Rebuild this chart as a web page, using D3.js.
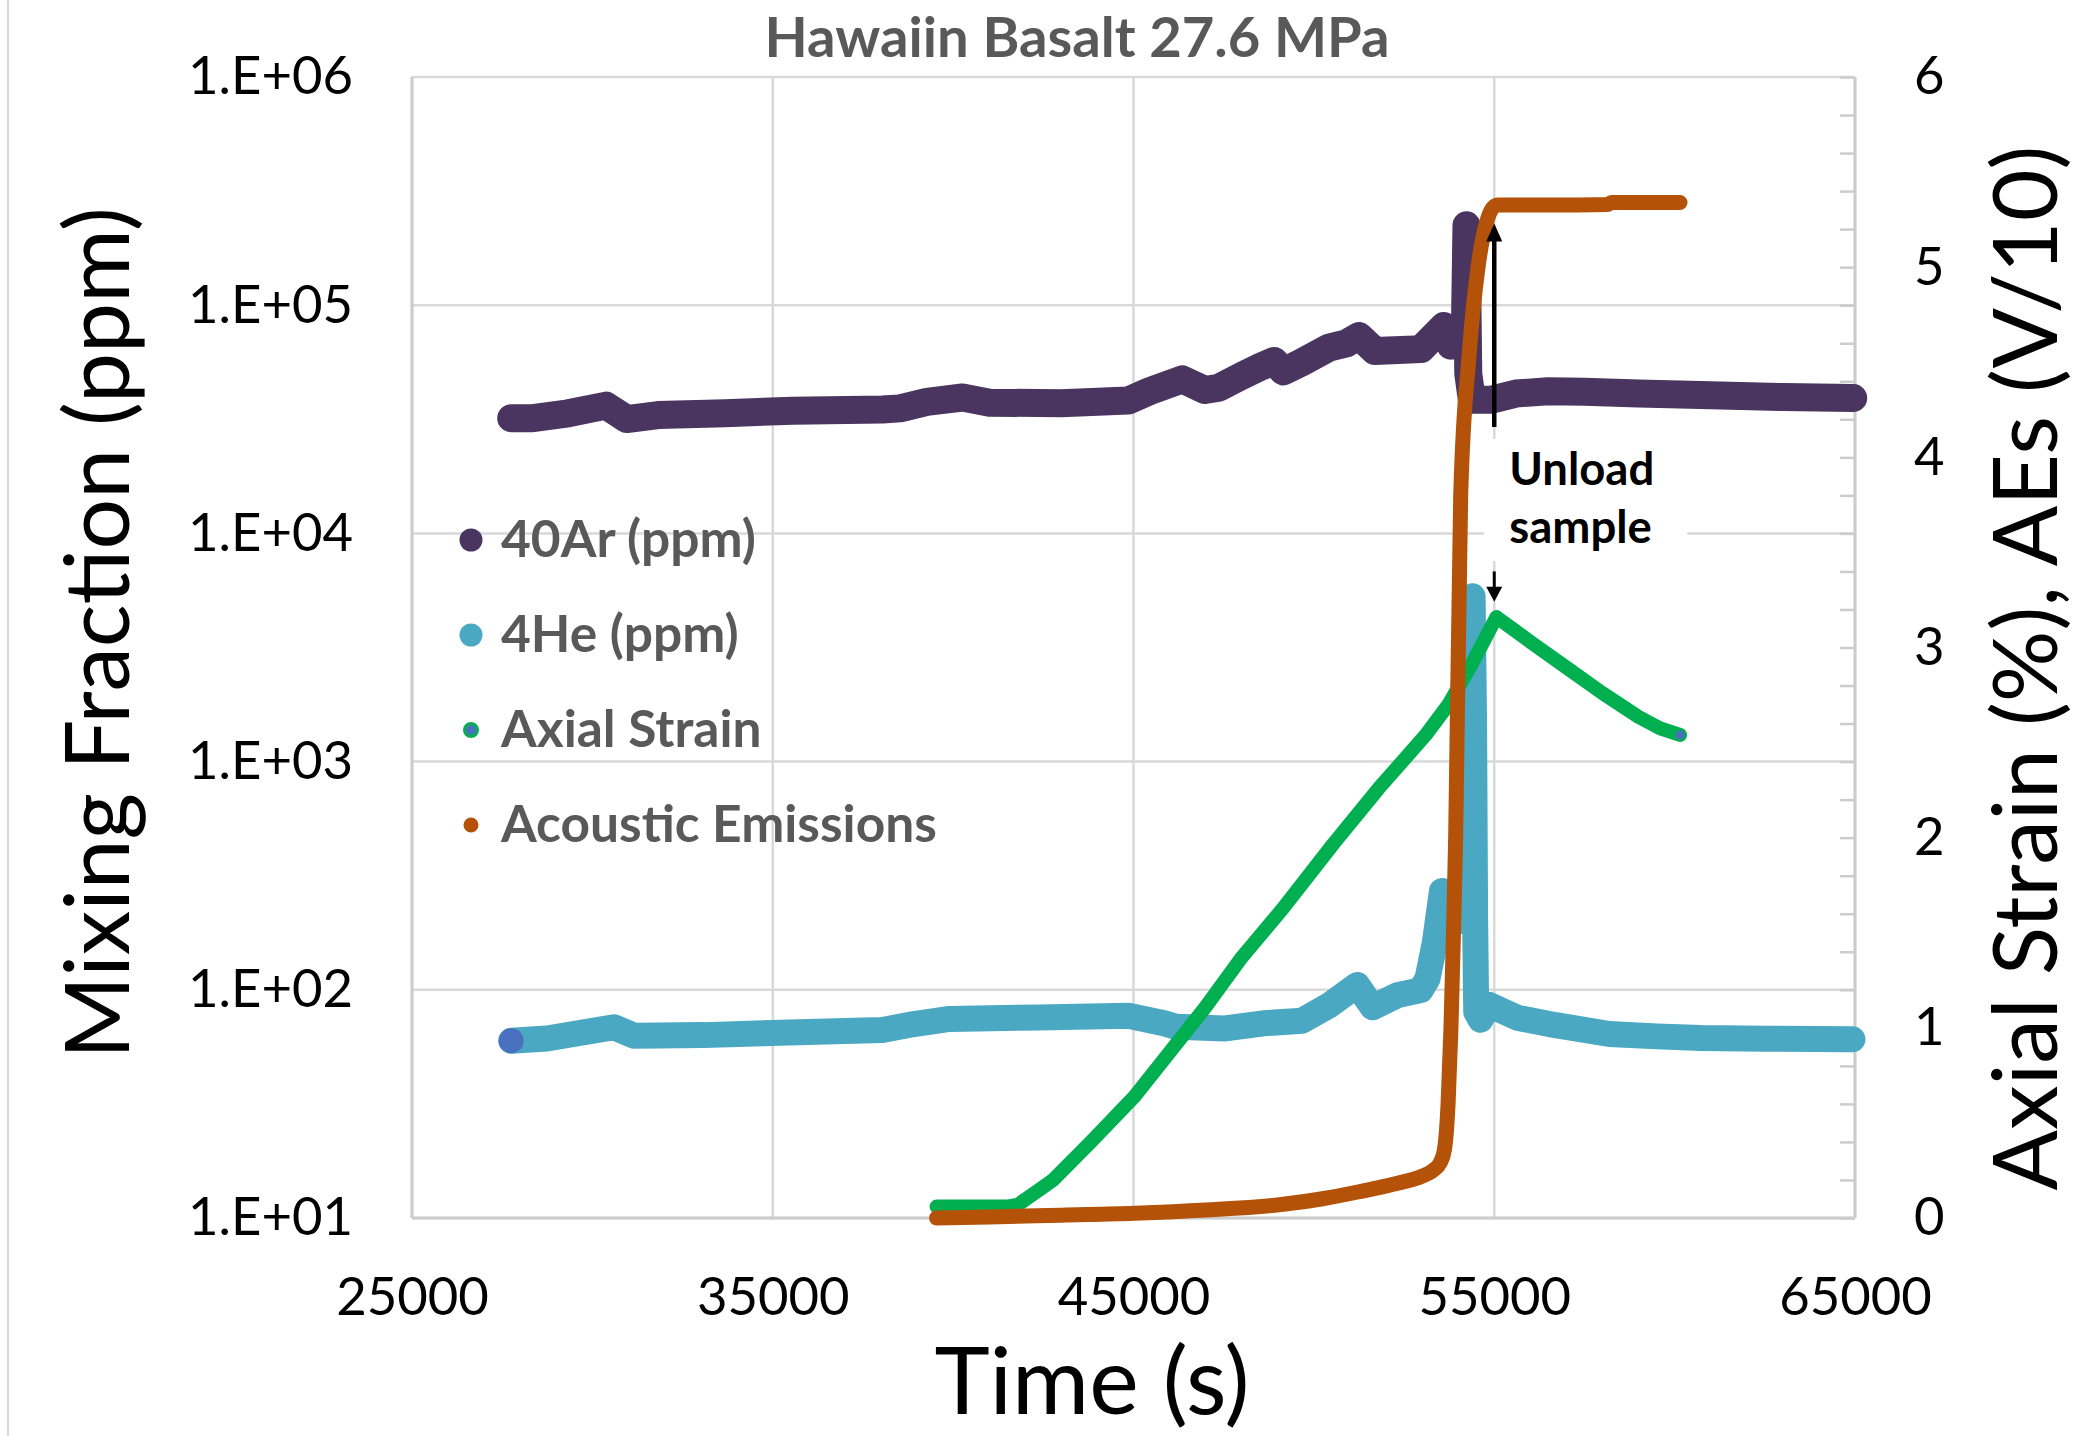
<!DOCTYPE html>
<html>
<head>
<meta charset="utf-8">
<script src="https://cdn.jsdelivr.net/npm/d3@7"></script>
<style>
  body { margin: 0; background: #fff; }
  svg { display: block; }
  text { font-family: Lato, "Open Sans", "Liberation Sans", sans-serif; }
</style>
</head>
<body>
<svg id="chart" width="2085" height="1436"></svg>
<script>
// ---- Data: Hawaiian basalt at 27.6 MPa confining pressure ----
// Gas mixing fractions (ppm) against run time (s)
const ar40Time = [27750, 28350, 29330, 30380, 30950, 31820, 33680, 35550, 38040, 38530,
  39270, 40260, 41010, 42990, 44850, 45450, 46350, 46980, 47370, 48000, 48500, 48900,
  49150, 49650, 50420, 50900, 51250, 51690, 52970, 53600, 53790, 54180, 54230, 54280,
  54380, 54900, 55600, 56500, 57500, 59000, 61000, 63000, 64950];
const ar40Ppm = [32000, 32000, 33600, 36300, 31700, 33000, 33600, 34500, 34900, 35300,
  37700, 39400, 37400, 37200, 38200, 42000, 47300, 42500, 43500, 49000, 53500, 57000,
  51200, 56000, 65200, 68000, 73300, 63000, 64200, 81100, 66500, 67000, 224000, 50000,
  38500, 38500, 41000, 42000, 41800, 41000, 40300, 39600, 39200];

const he4Time = [27750, 28740, 29850, 30600, 31160, 33090, 34950, 38040, 38910, 39900,
  42380, 44860, 45850, 46170, 47550, 48600, 49670, 50410, 51200, 51630, 52320, 52960,
  53150, 53350, 53550, 53850, 54150, 54330, 54400, 54440, 54470, 54500, 54620, 54850,
  55640, 56700, 58190, 59500, 60730, 62500, 64930];
const he4Ppm = [59.8, 61.2, 65.5, 68.5, 62.9, 63.3, 64.7, 66.7, 70.8, 74.5,
  75.7, 77, 71.3, 68.9, 67.7, 71.3, 73.2, 85.2, 105, 83.8, 94.8, 99.7,
  112, 160, 271, 250, 200, 700, 5300, 1500, 200, 80, 74, 86,
  75.4, 70, 64, 62.5, 61.5, 61, 60.7];

// Mechanical record on the secondary axis
const strainTime = [39540, 40500, 41500, 41800, 42100, 42400, 42770, 43820, 45030, 47000,
  48000, 49150, 50550, 51800, 53100, 53730, 54370, 55060, 56000, 57000, 58000, 59000,
  59600, 60150];
const strainPct = [0.06, 0.06, 0.06, 0.07, 0.11, 0.15, 0.2, 0.40, 0.64, 1.11,
  1.37, 1.63, 1.97, 2.26, 2.54, 2.70, 2.91, 3.16, 3.03, 2.895, 2.76, 2.635,
  2.575, 2.54];

const aeTime = [39540, 41000, 43000, 45030, 47000, 49150, 50200, 51250, 52320, 53000,
  53300, 53500, 53620, 53720, 53800, 53870, 53930, 54070, 54300, 54550, 54810, 54950,
  55100, 56500, 58150, 58250, 60150];
const aeVolts = [0.0, 0.005, 0.015, 0.025, 0.042, 0.072, 0.10, 0.138, 0.183, 0.22,
  0.25, 0.29, 0.36, 0.6, 1.0, 1.5, 2.0, 3.8, 4.53, 5.0, 5.25, 5.31,
  5.327, 5.327, 5.33, 5.34, 5.34];

// Axes
const timeTicks = [25000, 35000, 45000, 55000, 65000];
const ppmTicks = [10, 100, 1000, 10000, 100000, 1000000];
const ppmTickLabels = ["1.E+01", "1.E+02", "1.E+03", "1.E+04", "1.E+05", "1.E+06"];
const rightTicks = [0, 1, 2, 3, 4, 5, 6];
const rightMinorStep = 0.2;

// Legend and annotation
const seriesNames = ["40Ar (ppm)", "4He (ppm)", "Axial Strain", "Acoustic Emissions"];
const unloadTime = 55000;
const unloadArrowUp = [4.16, 5.23];    // tail -> tip, right-axis units
const unloadArrowDown = [3.40, 3.24];  // tail -> tip, right-axis units
const unloadLabel = ["Unload", "sample"];

// ---- Layout ----
const W = 2085, H = 1436;
const plot = { left: 412, right: 1855, top: 77, bottom: 1218 };
const colors = {
  ar: "#49355f", he: "#4aa8c2", strain: "#00b050", ae: "#b35208",
  accent: "#4a70c0", grid: "#d9d9d9", axis: "#cccccc", label: "#595959"
};

const x = d3.scaleLinear().domain([25000, 65000]).range([plot.left, plot.right]);
const yL = d3.scaleLog().domain([10, 1e6]).range([plot.bottom, plot.top]);
const yR = d3.scaleLinear().domain([0, 6]).range([plot.bottom, plot.top]);

const svg = d3.select("#chart");
svg.append("rect").attr("width", W).attr("height", H).attr("fill", "#fff");

// Set a text node's font size so its advance width equals `width`.
function fitTo(node, width) {
  const size = parseFloat(node.getAttribute("font-size"));
  const w = node.getComputedTextLength();
  const s = size * width / w;
  node.setAttribute("font-size", s);
  return s;
}
function sizeFor(str, width, weight) {
  const probe = svg.append("text").attr("font-size", 50)
    .attr("font-weight", weight || "normal").text(str);
  const s = fitTo(probe.node(), width);
  probe.remove();
  return s;
}

// chart-area border
svg.append("line").attr("x1", 8).attr("x2", 8).attr("y1", 0).attr("y2", H)
  .attr("stroke", colors.grid).attr("stroke-width", 2);

// ---- Gridlines ----
const grid = svg.append("g");
grid.selectAll("line.h").data(ppmTicks).join("line").attr("class", "h")
  .attr("x1", plot.left).attr("x2", plot.right)
  .attr("y1", d => yL(d)).attr("y2", d => yL(d))
  .attr("stroke", colors.grid).attr("stroke-width", 2.5);
grid.selectAll("line.v").data(timeTicks).join("line").attr("class", "v")
  .attr("x1", d => x(d)).attr("x2", d => x(d))
  .attr("y1", plot.top).attr("y2", plot.bottom)
  .attr("stroke", colors.grid).attr("stroke-width", 2.5);

// axis frame lines
const frame = svg.append("g").attr("stroke", colors.axis).attr("stroke-width", 3);
frame.append("line").attr("x1", plot.left).attr("x2", plot.left).attr("y1", plot.top).attr("y2", plot.bottom);
frame.append("line").attr("x1", plot.right).attr("x2", plot.right).attr("y1", plot.top).attr("y2", plot.bottom);
frame.append("line").attr("x1", plot.left).attr("x2", plot.right).attr("y1", plot.bottom).attr("y2", plot.bottom);

// ---- Axes ----
const tickFont = sizeFor("1.E+06", 165);

function styleAxis(g) {
  g.select(".domain").remove();
  g.selectAll("text").attr("font-size", tickFont).attr("fill", "#000")
    .attr("font-family", "Lato, 'Open Sans', sans-serif");
}

svg.append("g").attr("transform", `translate(${plot.left},0)`)
  .call(d3.axisLeft(yL).tickValues(ppmTicks)
    .tickFormat((d, i) => ppmTickLabels[i]).tickSize(0).tickPadding(59))
  .call(styleAxis);

svg.append("g").attr("transform", `translate(0,${plot.bottom})`)
  .call(d3.axisBottom(x).tickValues(timeTicks).tickFormat(d3.format("d"))
    .tickSize(0).tickPadding(60))
  .call(styleAxis);

svg.append("g").attr("transform", `translate(${plot.right},0)`)
  .call(d3.axisRight(yR).tickValues(rightTicks).tickFormat(d3.format("d"))
    .tickSize(0).tickPadding(59))
  .call(styleAxis);

// inward minor ticks on the secondary axis
const minorTicks = d3.range(0, 6 + 1e-9, rightMinorStep);
svg.append("g").attr("transform", `translate(${plot.right},0)`)
  .call(d3.axisRight(yR).tickValues(minorTicks).tickFormat("").tickSize(-15))
  .call(g => g.select(".domain").remove())
  .call(g => g.selectAll("line").attr("stroke", colors.axis).attr("stroke-width", 2.5));

// ---- Annotation background box ----
const ax = x(unloadTime);
const tailY = yR(unloadArrowUp[0]);
svg.append("rect")
  .attr("x", ax - 10).attr("y", tailY + 12)
  .attr("width", 203).attr("height", 122)
  .attr("fill", "#fff");

// ---- Series ----
const zipPts = (ts, vs) => d3.zip(ts, vs);
const lineLog = d3.line().x(d => x(d[0])).y(d => yL(d[1])).curve(d3.curveLinear);
const lineRight = d3.line().x(d => x(d[0])).y(d => yR(d[1])).curve(d3.curveLinear);
const lineRightSmooth = d3.line().x(d => x(d[0])).y(d => yR(d[1])).curve(d3.curveMonotoneX);

const seriesG = svg.append("g").attr("fill", "none")
  .attr("stroke-linecap", "round").attr("stroke-linejoin", "round");

seriesG.append("path").attr("d", lineLog(zipPts(ar40Time, ar40Ppm)))
  .attr("stroke", colors.ar).attr("stroke-width", 28);
seriesG.append("path").attr("d", lineLog(zipPts(he4Time, he4Ppm)))
  .attr("stroke", colors.he).attr("stroke-width", 26);
seriesG.append("path").attr("d", lineRight(zipPts(strainTime, strainPct)))
  .attr("stroke", colors.strain).attr("stroke-width", 14);
seriesG.append("path").attr("d", lineRightSmooth(zipPts(aeTime, aeVolts)))
  .attr("stroke", colors.ae).attr("stroke-width", 15);

// end-point markers
svg.append("circle").attr("cx", x(he4Time[0])).attr("cy", yL(he4Ppm[0]))
  .attr("r", 12.5).attr("fill", colors.accent);
const sLast = strainTime.length - 1;
svg.append("circle").attr("cx", x(strainTime[sLast])).attr("cy", yR(strainPct[sLast]))
  .attr("r", 4.5).attr("fill", colors.accent);

// ---- Unload annotation ----
function arrow(fromV, toV, headLen, headHalf, width) {
  const y0 = yR(fromV), y1 = yR(toV);
  const dir = Math.sign(y1 - y0);
  const g = svg.append("g");
  g.append("line").attr("x1", ax).attr("x2", ax).attr("y1", y0).attr("y2", y1 - dir * headLen * 0.8)
    .attr("stroke", "#000").attr("stroke-width", width);
  g.append("path")
    .attr("d", `M${ax},${y1} L${ax - headHalf},${y1 - dir * headLen} L${ax + headHalf},${y1 - dir * headLen} Z`)
    .attr("fill", "#000");
}
arrow(unloadArrowUp[0], unloadArrowUp[1], 18, 8, 4.5);
arrow(unloadArrowDown[0], unloadArrowDown[1], 15, 8, 3);

const unloadFont = sizeFor(unloadLabel[0], 145, "bold");
svg.append("g").selectAll("text").data(unloadLabel).join("text")
  .attr("x", ax + 15).attr("y", (d, i) => tailY + 58 + i * 58)
  .attr("font-size", unloadFont).attr("font-weight", "bold").attr("fill", "#000")
  .text(d => d);

// ---- Legend ----
const legendFont = sizeFor(seriesNames[3], 436, "bold");
const legendMarks = [
  { r: 11.5, fill: colors.ar, stroke: "none" },
  { r: 11.5, fill: colors.he, stroke: "none" },
  { r: 6.5, fill: colors.accent, stroke: colors.strain },
  { r: 7.5, fill: colors.ae, stroke: "none" }
];
const legend = svg.append("g").attr("transform", "translate(471,540)");
const rows = legend.selectAll("g").data(seriesNames).join("g")
  .attr("transform", (d, i) => `translate(0,${i * 95})`);
rows.append("circle").attr("r", (d, i) => legendMarks[i].r)
  .attr("fill", (d, i) => legendMarks[i].fill)
  .attr("stroke", (d, i) => legendMarks[i].stroke).attr("stroke-width", 3);
rows.append("text").attr("x", 30).attr("y", 17)
  .attr("font-size", legendFont).attr("font-weight", "bold").attr("fill", colors.label)
  .text(d => d);

// ---- Titles ----
const title = svg.append("text").attr("x", 1077).attr("y", 57)
  .attr("text-anchor", "middle").attr("font-size", 50).attr("font-weight", "bold")
  .attr("fill", colors.label).text("Hawaiin Basalt 27.6 MPa");
fitTo(title.node(), 625);

const yTitle = svg.append("text").attr("transform", "translate(129,633) rotate(-90)")
  .attr("text-anchor", "middle").attr("font-size", 90).attr("fill", "#000")
  .text("Mixing Fraction (ppm)");
fitTo(yTitle.node(), 852);

const y2Title = svg.append("text").attr("transform", "translate(2057,668) rotate(-90)")
  .attr("text-anchor", "middle").attr("font-size", 90).attr("fill", "#000")
  .text("Axial Strain (%), AEs (V/10)");
fitTo(y2Title.node(), 1045);

const xTitle = svg.append("text").attr("x", 1092).attr("y", 1414)
  .attr("text-anchor", "middle").attr("font-size", 90).attr("fill", "#000")
  .text("Time (s)");
fitTo(xTitle.node(), 315);
</script>
</body>
</html>
